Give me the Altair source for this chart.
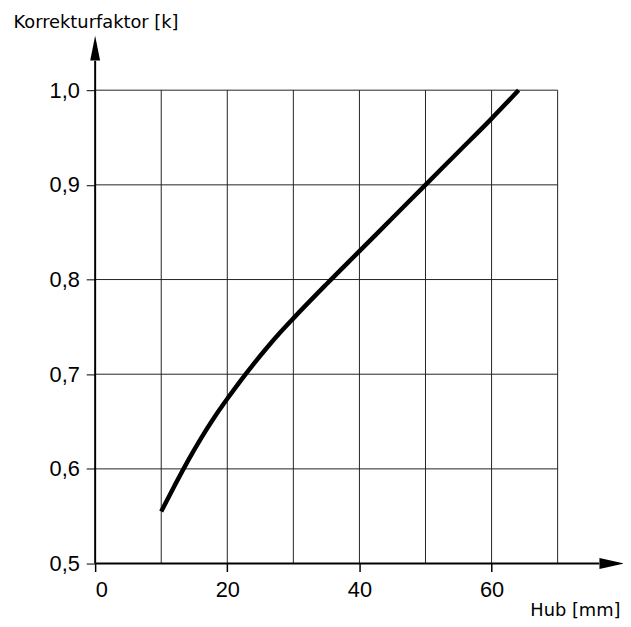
import altair as alt
import pandas as pd

# Curve values
hub = [10, 12, 14, 16, 18, 20, 22, 24, 26, 28, 30, 35, 40, 45, 50, 55, 60, 64.1]
k = [0.555, 0.582, 0.608, 0.632, 0.654, 0.674, 0.693, 0.711, 0.728, 0.744, 0.759,
     0.795, 0.830, 0.865, 0.900, 0.935, 0.970, 1.0]

grid_x = [10, 20, 30, 40, 50, 60, 70]
grid_y = [0.6, 0.7, 0.8, 0.9, 1.0]
x_ticks = [0, 20, 40, 60]
y_ticks = [0.5, 0.6, 0.7, 0.8, 0.9, 1.0]
x_title = "Hub [mm]"
y_title = "Korrekturfaktor [k]"

x_dom = [0, 70]
y_dom = [0.5, 1.0]
x_axis_end = 76.3   # where the x axis line meets its arrow head
x_arrow = 78.2      # centre of the x arrow head
y_axis_end = 1.031
y_arrow = 1.0445

W, H = 467, 478

xs = alt.Scale(domain=x_dom, nice=False, zero=False)
ys = alt.Scale(domain=y_dom, nice=False, zero=False)

LABEL_FONT = "Liberation Sans, Arial, Helvetica, sans-serif"
TITLE_FONT = "DejaVu Sans"

curve_df = pd.DataFrame({"hub": hub, "k": k})
vgrid_df = pd.DataFrame({"gx": grid_x, "y0": [y_dom[0]] * len(grid_x), "y1": [y_dom[1]] * len(grid_x)})
hgrid_df = pd.DataFrame({"gy": grid_y, "x0": [x_dom[0]] * len(grid_y), "x1": [x_dom[1]] * len(grid_y)})
xaxis_df = pd.DataFrame({"x0": [x_dom[0]], "x1": [x_axis_end], "y": [y_dom[0]]})
yaxis_df = pd.DataFrame({"x": [x_dom[0]], "y0": [y_dom[0]], "y1": [y_axis_end]})
xarrow_df = pd.DataFrame({"x": [x_arrow], "y": [y_dom[0]]})
yarrow_df = pd.DataFrame({"x": [x_dom[0]], "y": [y_arrow]})

x_axis = alt.Axis(
    values=x_ticks,
    format="d",
    grid=False,
    domain=False,
    ticks=True,
    tickSize=8,
    tickWidth=1.5,
    tickColor="black",
    labelFont=LABEL_FONT,
    labelFontSize=22,
    labelColor="black",
    labelPadding=8,
    title=x_title,
    titleFont=TITLE_FONT,
    titleFontSize=18,
    titleFontWeight="normal",
    titleColor="black",
    titleAlign="right",
    titleBaseline="alphabetic",
    titleX=530,
    titleY=52,
)
y_axis = alt.Axis(
    values=y_ticks,
    labelExpr="replace(format(datum.value, '.1f'), '.', ',')",
    grid=False,
    domain=False,
    ticks=True,
    tickSize=9,
    tickWidth=1,
    tickColor="black",
    labelFont=LABEL_FONT,
    labelFontSize=22,
    labelColor="black",
    labelPadding=7,
    title=y_title,
    titleFont=TITLE_FONT,
    titleFontSize=18,
    titleFontWeight="normal",
    titleColor="black",
    titleAngle=0,
    titleAlign="left",
    titleBaseline="alphabetic",
    titleX=-83,
    titleY=-63,
)

vgrid = alt.Chart(vgrid_df).mark_rule(color="#222222", strokeWidth=1).encode(
    x=alt.X("gx:Q", scale=xs, axis=x_axis),
    y=alt.Y("y0:Q", scale=ys, axis=y_axis),
    y2="y1:Q",
)
hgrid = alt.Chart(hgrid_df).mark_rule(color="#222222", strokeWidth=1).encode(
    y=alt.Y("gy:Q", scale=ys, axis=y_axis),
    x=alt.X("x0:Q", scale=xs, axis=x_axis),
    x2="x1:Q",
)

curve = alt.Chart(curve_df).mark_line(
    color="black", strokeWidth=4.5, interpolate="monotone", strokeCap="butt"
).encode(
    x=alt.X("hub:Q", scale=xs, axis=x_axis),
    y=alt.Y("k:Q", scale=ys, axis=y_axis),
)

xaxis = alt.Chart(xaxis_df).mark_rule(color="black", strokeWidth=2).encode(
    x=alt.X("x0:Q", scale=xs, axis=x_axis),
    x2="x1:Q",
    y=alt.Y("y:Q", scale=ys, axis=y_axis),
)
yaxis = alt.Chart(yaxis_df).mark_rule(color="black", strokeWidth=2).encode(
    x=alt.X("x:Q", scale=xs, axis=x_axis),
    y=alt.Y("y0:Q", scale=ys, axis=y_axis),
    y2="y1:Q",
)
xarrow = alt.Chart(xarrow_df).mark_point(
    shape="M -1 -0.44 L 1 0 L -1 0.44 Z", filled=True, color="black", opacity=1, size=625, strokeWidth=0
).encode(
    x=alt.X("x:Q", scale=xs, axis=x_axis),
    y=alt.Y("y:Q", scale=ys, axis=y_axis),
)
yarrow = alt.Chart(yarrow_df).mark_point(
    shape="M -0.4 1 L 0 -1 L 0.4 1 Z", filled=True, color="black", opacity=1, size=625, strokeWidth=0
).encode(
    x=alt.X("x:Q", scale=xs, axis=x_axis),
    y=alt.Y("y:Q", scale=ys, axis=y_axis),
)

chart = (
    alt.layer(vgrid, hgrid, curve, xaxis, yaxis, xarrow, yarrow)
    .properties(
        width=W,
        height=H,
        autosize=alt.AutoSizeParams(type="none"),
        padding={"left": 88, "top": 80, "right": 66, "bottom": 53},
        background="white",
    )
    .configure_view(stroke=None)
)

chart.save("out.html", embed_options={"renderer": "svg", "actions": False})
